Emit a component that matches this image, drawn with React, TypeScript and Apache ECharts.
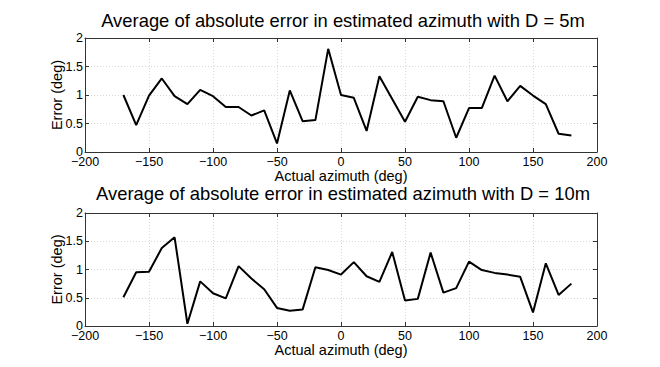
import React, { useEffect, useRef } from "react";
import * as echarts from "echarts";

const azimuth = [-170, -160, -150, -140, -130, -120, -110, -100, -90, -80, -70, -60, -50, -40, -30, -20, -10, 0, 10, 20, 30, 40, 50, 60, 70, 80, 90, 100, 110, 120, 130, 140, 150, 160, 170, 180];
const errD5 = [1.0, 0.47, 0.99, 1.29, 0.98, 0.84, 1.09, 0.98, 0.79, 0.79, 0.64, 0.73, 0.15, 1.08, 0.54, 0.56, 1.81, 1.0, 0.95, 0.37, 1.33, 0.93, 0.53, 0.97, 0.91, 0.89, 0.25, 0.77, 0.77, 1.34, 0.89, 1.16, 0.99, 0.84, 0.32, 0.29];
const errD10 = [0.51, 0.95, 0.96, 1.38, 1.57, 0.04, 0.79, 0.58, 0.49, 1.06, 0.84, 0.65, 0.32, 0.27, 0.29, 1.04, 0.99, 0.91, 1.13, 0.88, 0.78, 1.31, 0.45, 0.48, 1.30, 0.59, 0.67, 1.14, 0.99, 0.94, 0.91, 0.87, 0.24, 1.11, 0.55, 0.75];
const titles = [
  "Average of absolute error in estimated azimuth with D = 5m",
  "Average of absolute error in estimated azimuth with D = 10m",
];
const xName = "Actual azimuth (deg)";
const yName = "Error (deg)";

const FONT = "Liberation Sans, Arial, sans-serif";

export default function App() {
  const ref = useRef<HTMLDivElement>(null);
  useEffect(() => {
    if (!ref.current) return;
    const chart = echarts.init(ref.current, null, { renderer: "svg" });
    const grids = [
      { left: 85, right: 63, top: 38, height: 114 },
      { left: 85, right: 63, top: 213, height: 113 },
    ];
    const axisLine = { show: true, onZero: false, lineStyle: { color: "#333", width: 1 } };
    const tick = { show: true, inside: true, length: 4, lineStyle: { color: "#333" } };
    const splitLine = { show: true, lineStyle: { color: "#d8d8d8", type: [1, 2] as any, width: 1 } };
    const xAxes: any[] = [];
    const yAxes: any[] = [];
    [0, 1].forEach((g) => {
      xAxes.push({
        type: "value", gridIndex: g, min: -200, max: 200, interval: 50, position: "bottom",
        axisLine, axisTick: tick, splitLine,
        axisLabel: { color: "#000", fontSize: 12.5, lineHeight: 12, fontFamily: FONT, margin: 3.5, formatter: (v: number) => String(v).replace("-", "\u2212") },
        name: xName, nameLocation: "middle", nameGap: 16.5, nameMoveOverlap: false,
        nameTextStyle: { color: "#000", fontSize: 14.5, lineHeight: 14, fontFamily: FONT, verticalAlign: "top" },
      });
      xAxes.push({
        type: "value", gridIndex: g, min: -200, max: 200, interval: 50, position: "top",
        axisLine, axisTick: tick, splitLine: { show: false }, axisLabel: { show: false },
      });
      yAxes.push({
        type: "value", gridIndex: g, min: 0, max: 2, interval: 0.5, position: "left",
        axisLine, axisTick: tick, splitLine,
        axisLabel: { color: "#000", fontSize: 12.5, fontFamily: FONT, margin: 2 },
        name: yName, nameLocation: "middle", nameGap: 21, nameMoveOverlap: false,
        nameTextStyle: { color: "#000", fontSize: 14.5, fontFamily: FONT },
      });
      yAxes.push({
        type: "value", gridIndex: g, min: 0, max: 2, interval: 0.5, position: "right",
        axisLine, axisTick: tick, splitLine: { show: false }, axisLabel: { show: false },
      });
    });
    chart.setOption({
      animation: false,
      backgroundColor: "#fff",
      title: [
        { text: titles[0], left: 338, top: 6.5, padding: 5, textAlign: "center", textStyle: { fontSize: 18.4, lineHeight: 17, fontWeight: "normal", color: "#000", fontFamily: FONT } },
        { text: titles[1], left: 338, top: 180, padding: 5, textAlign: "center", textStyle: { fontSize: 18.4, lineHeight: 17, fontWeight: "normal", color: "#000", fontFamily: FONT } },
      ],
      grid: grids,
      xAxis: xAxes,
      yAxis: yAxes,
      series: [
        {
          type: "line", xAxisIndex: 0, yAxisIndex: 0, showSymbol: false, symbol: "none",
          lineStyle: { color: "#000", width: 2 },
          data: azimuth.map((a, i) => [a, errD5[i]]),
        },
        {
          type: "line", xAxisIndex: 2, yAxisIndex: 2, showSymbol: false, symbol: "none",
          lineStyle: { color: "#000", width: 2 },
          data: azimuth.map((a, i) => [a, errD10[i]]),
        },
      ],
    });
    return () => chart.dispose();
  }, []);
  return <div ref={ref} style={{ width: 660, height: 367, position: "absolute", left: 0, top: 0 }} />;
}
